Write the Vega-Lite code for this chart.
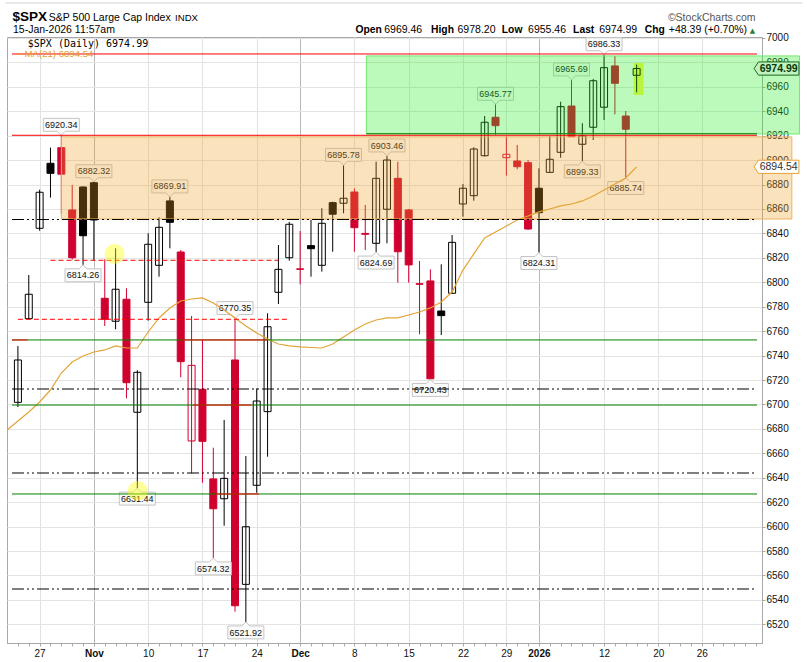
{
"$schema": "https://vega.github.io/schema/vega-lite/v6.json",
"width": 755, "height": 606,
"autosize": {"type": "none"},
"padding": {"left": 7, "top": 37, "right": 45, "bottom": 19},
"background": "white",
"config": {"view": {"stroke": "#a8a8a8"}, "axis": {"labelFont": "Liberation Sans", "labelFontSize": 10, "labelColor": "#111", "domainColor": "#a8a8a8", "tickColor": "#a8a8a8", "labelOverlap": false}},
"resolve": {"axis": {"y": "independent"}},
"datasets": {
"ohlc": [
{"d":"2025-10-23","i":-2,"o":6701.7,"h":6747.8,"l":6697.9,"c":6736.4,"dir":"up","hollow":true},
{"d":"2025-10-24","i":-1,"o":6770.2,"h":6806.0,"l":6769.7,"c":6790.2,"dir":"up","hollow":true},
{"d":"2025-10-27","i":0,"o":6844.2,"h":6875.8,"l":6842.2,"c":6873.7,"dir":"up","hollow":true},
{"d":"2025-10-28","i":1,"o":6897.4,"h":6910.2,"l":6869.3,"c":6889.2,"dir":"up","hollow":false},
{"d":"2025-10-29","i":2,"o":6910.2,"h":6920.34,"l":6856.0,"c":6888.5,"dir":"down","hollow":false},
{"d":"2025-10-30","i":3,"o":6859.2,"h":6879.7,"l":6818.5,"c":6820.1,"dir":"down","hollow":false},
{"d":"2025-10-31","i":4,"o":6878.0,"h":6878.5,"l":6814.26,"c":6838.1,"dir":"up","hollow":false},
{"d":"2025-11-03","i":5,"o":6881.5,"h":6882.32,"l":6818.2,"c":6851.0,"dir":"up","hollow":false},
{"d":"2025-11-04","i":6,"o":6786.9,"h":6818.8,"l":6764.2,"c":6769.7,"dir":"down","hollow":false},
{"d":"2025-11-05","i":7,"o":6768.1,"h":6827.8,"l":6761.5,"c":6794.3,"dir":"up","hollow":true},
{"d":"2025-11-06","i":8,"o":6786.1,"h":6795.1,"l":6705.0,"c":6717.8,"dir":"down","hollow":false},
{"d":"2025-11-07","i":9,"o":6693.6,"h":6728.0,"l":6631.44,"c":6726.3,"dir":"up","hollow":true},
{"d":"2025-11-10","i":10,"o":6783.6,"h":6840.1,"l":6768.6,"c":6831.1,"dir":"up","hollow":true},
{"d":"2025-11-11","i":11,"o":6813.9,"h":6853.2,"l":6804.6,"c":6845.0,"dir":"up","hollow":true},
{"d":"2025-11-12","i":12,"o":6866.6,"h":6869.91,"l":6827.8,"c":6849.1,"dir":"up","hollow":false},
{"d":"2025-11-13","i":13,"o":6824.8,"h":6826.4,"l":6722.2,"c":6735.0,"dir":"down","hollow":false},
{"d":"2025-11-14","i":14,"o":6670.1,"h":6772.4,"l":6643.6,"c":6732.0,"dir":"down","hollow":true},
{"d":"2025-11-17","i":15,"o":6712.4,"h":6752.8,"l":6635.9,"c":6669.8,"dir":"down","hollow":false},
{"d":"2025-11-18","i":16,"o":6639.0,"h":6664.6,"l":6574.32,"c":6614.6,"dir":"down","hollow":false},
{"d":"2025-11-19","i":17,"o":6622.8,"h":6687.3,"l":6600.7,"c":6639.5,"dir":"up","hollow":true},
{"d":"2025-11-20","i":18,"o":6736.4,"h":6770.35,"l":6530.3,"c":6535.2,"dir":"down","hollow":false},
{"d":"2025-11-21","i":19,"o":6552.7,"h":6657.8,"l":6521.92,"c":6599.9,"dir":"up","hollow":true},
{"d":"2025-11-24","i":20,"o":6633.8,"h":6713.2,"l":6627.7,"c":6702.8,"dir":"up","hollow":true},
{"d":"2025-11-25","i":21,"o":6694.1,"h":6774.6,"l":6657.2,"c":6763.6,"dir":"up","hollow":true},
{"d":"2025-11-26","i":22,"o":6791.8,"h":6830.5,"l":6782.2,"c":6810.6,"dir":"up","hollow":true},
{"d":"2025-11-28","i":23,"o":6820.1,"h":6849.4,"l":6817.7,"c":6847.5,"dir":"up","hollow":true},
{"d":"2025-12-01","i":24,"o":6811.0,"h":6842.0,"l":6798.4,"c":6810.6,"dir":"down","hollow":false},
{"d":"2025-12-02","i":25,"o":6830.0,"h":6851.0,"l":6804.6,"c":6827.5,"dir":"up","hollow":false},
{"d":"2025-12-03","i":26,"o":6813.9,"h":6860.6,"l":6808.7,"c":6848.3,"dir":"up","hollow":true},
{"d":"2025-12-04","i":27,"o":6865.2,"h":6866.0,"l":6825.0,"c":6855.7,"dir":"up","hollow":false},
{"d":"2025-12-05","i":28,"o":6864.7,"h":6895.78,"l":6856.5,"c":6868.8,"dir":"up","hollow":true},
{"d":"2025-12-08","i":29,"o":6873.9,"h":6876.9,"l":6825.0,"c":6844.7,"dir":"down","hollow":false},
{"d":"2025-12-09","i":30,"o":6840.0,"h":6863.3,"l":6826.4,"c":6839.3,"dir":"down","hollow":false},
{"d":"2025-12-10","i":31,"o":6831.9,"h":6898.7,"l":6824.69,"c":6885.1,"dir":"up","hollow":true},
{"d":"2025-12-11","i":32,"o":6859.8,"h":6903.46,"l":6831.9,"c":6900.1,"dir":"up","hollow":true},
{"d":"2025-12-12","i":33,"o":6885.1,"h":6898.7,"l":6799.7,"c":6825.0,"dir":"down","hollow":false},
{"d":"2025-12-15","i":34,"o":6859.2,"h":6860.0,"l":6799.7,"c":6814.2,"dir":"down","hollow":false},
{"d":"2025-12-16","i":35,"o":6798.8,"h":6817.4,"l":6757.4,"c":6798.4,"dir":"down","hollow":false},
{"d":"2025-12-17","i":36,"o":6801.1,"h":6810.6,"l":6720.43,"c":6721.0,"dir":"down","hollow":false},
{"d":"2025-12-18","i":37,"o":6776.5,"h":6814.7,"l":6756.8,"c":6772.7,"dir":"up","hollow":false},
{"d":"2025-12-19","i":38,"o":6791.0,"h":6838.7,"l":6790.5,"c":6832.7,"dir":"up","hollow":true},
{"d":"2025-12-22","i":39,"o":6864.1,"h":6880.5,"l":6853.7,"c":6877.0,"dir":"up","hollow":true},
{"d":"2025-12-23","i":40,"o":6870.9,"h":6910.5,"l":6866.8,"c":6909.1,"dir":"up","hollow":true},
{"d":"2025-12-24","i":41,"o":6903.6,"h":6936.1,"l":6903.0,"c":6931.0,"dir":"up","hollow":true},
{"d":"2025-12-26","i":42,"o":6935.1,"h":6945.77,"l":6920.6,"c":6928.2,"dir":"down","hollow":false},
{"d":"2025-12-29","i":43,"o":6902.0,"h":6919.8,"l":6887.3,"c":6904.8,"dir":"down","hollow":true},
{"d":"2025-12-30","i":44,"o":6899.3,"h":6912.4,"l":6892.5,"c":6894.6,"dir":"down","hollow":false},
{"d":"2025-12-31","i":45,"o":6897.9,"h":6900.1,"l":6843.0,"c":6843.6,"dir":"down","hollow":false},
{"d":"2026-01-02","i":46,"o":6877.0,"h":6893.3,"l":6824.31,"c":6857.0,"dir":"up","hollow":false},
{"d":"2026-01-05","i":47,"o":6890.0,"h":6919.8,"l":6890.0,"c":6900.7,"dir":"up","hollow":true},
{"d":"2026-01-06","i":48,"o":6906.4,"h":6947.8,"l":6902.0,"c":6943.8,"dir":"up","hollow":true},
{"d":"2026-01-07","i":49,"o":6944.3,"h":6965.69,"l":6919.0,"c":6919.2,"dir":"down","hollow":false},
{"d":"2026-01-08","i":50,"o":6913.0,"h":6930.2,"l":6899.33,"c":6919.8,"dir":"up","hollow":true},
{"d":"2026-01-09","i":51,"o":6926.9,"h":6966.4,"l":6916.5,"c":6965.0,"dir":"up","hollow":true},
{"d":"2026-01-12","i":52,"o":6943.3,"h":6986.33,"l":6932.9,"c":6975.7,"dir":"up","hollow":true},
{"d":"2026-01-13","i":53,"o":6977.1,"h":6985.3,"l":6937.5,"c":6962.9,"dir":"down","hollow":false},
{"d":"2026-01-14","i":54,"o":6936.1,"h":6940.2,"l":6885.74,"c":6925.3,"dir":"down","hollow":false},
{"d":"2026-01-15","i":55,"o":6969.46,"h":6978.2,"l":6955.46,"c":6974.99,"dir":"up","hollow":true}
],
"ma": [
{"i":-3,"v":6679},{"i":-2,"v":6686.5},{"i":-1,"v":6693.8},{"i":0,"v":6702},{"i":1,"v":6711.8},{"i":2,"v":6725.7},{"i":3,"v":6734.7},{"i":4,"v":6739.7},{"i":5,"v":6742.9},{"i":6,"v":6744.6},{"i":7,"v":6747.9},{"i":8,"v":6746.2},{"i":9,"v":6746.2},{"i":10,"v":6759.3},{"i":11,"v":6770.8},{"i":12,"v":6779},{"i":13,"v":6784.7},{"i":14,"v":6786.3},{"i":15,"v":6787.2},{"i":16,"v":6783},{"i":17,"v":6777.3},{"i":18,"v":6770.8},{"i":19,"v":6764.2},{"i":20,"v":6758.5},{"i":21,"v":6753.6},{"i":22,"v":6749.5},{"i":23,"v":6747.9},{"i":24,"v":6747.1},{"i":25,"v":6746.6},{"i":26,"v":6746.2},{"i":27,"v":6749.5},{"i":28,"v":6755.2},{"i":29,"v":6760.9},{"i":30,"v":6765.9},{"i":31,"v":6769.1},{"i":32,"v":6770.8},{"i":33,"v":6770.8},{"i":34,"v":6773.2},{"i":35,"v":6775.7},{"i":36,"v":6779},{"i":37,"v":6783.9},{"i":38,"v":6792},{"i":39,"v":6810},{"i":40,"v":6823.2},{"i":41,"v":6836.3},{"i":42,"v":6841.2},{"i":43,"v":6846.1},{"i":44,"v":6851},{"i":45,"v":6854.3},{"i":46,"v":6857.6},{"i":47,"v":6860},{"i":48,"v":6862.5},{"i":49,"v":6864.1},{"i":50,"v":6866.6},{"i":51,"v":6870.7},{"i":52,"v":6875.6},{"i":53,"v":6880.5},{"i":54,"v":6885.4},{"i":55,"v":6894.54}
],
"hiLab": [{"i":2,"v":6920.34},{"i":5,"v":6882.32},{"i":12,"v":6869.91},{"i":18,"v":6770.35},{"i":28,"v":6895.78},{"i":32,"v":6903.46},{"i":42,"v":6945.77},{"i":49,"v":6965.69},{"i":52,"v":6986.33}],
"loLab": [{"i":4,"v":6814.26},{"i":9,"v":6631.44},{"i":16,"v":6574.32},{"i":19,"v":6521.92},{"i":31,"v":6824.69},{"i":36,"v":6720.43},{"i":46,"v":6824.31},{"i":50,"v":6899.33},{"i":54,"v":6885.74}],
"orangeZone": [{"i":2,"i2":69.3,"v":6851.8,"v2":6919.0}],
"greenZone": [{"i":30.1,"i2":70.0,"v":6921.4,"v2":6985.3}],
"highlight": [{"i":54.73,"i2":55.64,"v":6953.3,"v2":6979.5}],
"greenLines": [{"i":-2.545,"i2":66.09,"v":6752.8},{"i":-2.545,"i2":66.09,"v":6699.5},{"i":-2.545,"i2":66.09,"v":6626.7},{"i":30.1,"i2":66.09,"v":6921.6}],
"redLines": [{"i":-2.545,"i2":66.09,"v":6986.9},{"i":-2.545,"i2":66.09,"v":6920.34},{"i":-2.545,"i2":-1.1,"v":6752.8},{"i":13,"i2":21,"v":6752.8},{"i":14.1,"i2":19.5,"v":6699.5},{"i":16.2,"i2":20.2,"v":6626.7}],
"dashDot": [{"i":-2.545,"i2":66.09,"v":6851.4},{"i":-2.545,"i2":66.09,"v":6712.6},{"i":-2.545,"i2":66.09,"v":6643.9},{"i":-2.545,"i2":66.09,"v":6548.9}],
"redDash": [{"i":1,"i2":22,"v":6818.0},{"i":-2,"i2":23,"v":6769.7}],
"circles": [{"i":6.9,"v":6823.2},{"i":9.03,"v":6629.1}],
"frame": [{"i":-3.19,"i2":70.27,"v":7028.6}],
"lastTag": [{"i":65.82,"v":6974.99}],
"maTag": [{"i":65.82,"v":6894.54}],
"hdrTitle": [{"t":"$SPX","i":-2.5,"v":7014.1}],
"hdrNorm": [{"t":"S&P 500 Large Cap Index","i":0.85,"v":7014.1},{"t":"15-Jan-2026 11:57am","i":-2.4545,"v":7003.85},{"t":"6969.46","i":31.75,"v":7003.85},{"t":"6978.20","i":38.5,"v":7003.85},{"t":"6955.46","i":45.0,"v":7003.85},{"t":"6974.99","i":51.55,"v":7003.85},{"t":"+48.39 (+0.70%)","i":57.97,"v":7003.85}],
"hdrSmall": [{"t":"INDX","i":12.48,"v":7014.1}],
"hdrBold": [{"t":"Open","i":29.09,"v":7003.85},{"t":"High","i":36.06,"v":7003.85},{"t":"Low","i":42.58,"v":7003.85},{"t":"Last","i":49.15,"v":7003.85},{"t":"Chg","i":55.76,"v":7003.85}],
"copyright": [{"t":"©StockCharts.com","i":57.88,"v":7014.1}],
"arrow": [{"t":"▲","i":65.67,"v":7004.3}],
"legPrice": [{"t":"$SPX (Daily) 6974.99","i":-1.09,"v":6992.9}],
"legMA": [{"t":"—MA(21) 6894.54","i":-2.27,"v":6984.7}]
},
"encoding": {
"x": {"field": "i", "type": "quantitative",
 "scale": {"domain": [-2.545, 66.09], "nice": false, "zero": false},
 "axis": {"title": null,
  "values": [-2,-1,0,1,2,3,4,5,6,7,8,9,10,11,12,13,14,15,16,17,18,19,20,21,22,23,24,25,26,27,28,29,30,31,32,33,34,35,36,37,38,39,40,41,42,43,44,45,46,47,48,49,50,51,52,53,54,55,56,57,58,59,60,61,62,63,64,65,66],
  "labelExpr": "indexof([0,5,10,15,20,24,29,34,39,43,46,52,57,61], datum.value) >= 0 ? ['27','Nov','10','17','24','Dec','8','15','22','29','2026','12','20','26'][indexof([0,5,10,15,20,24,29,34,39,43,46,52,57,61], datum.value)] : ''",
  "labelOverlap": false, "labelFlush": false, "labelBound": false, "labelPadding": 2, "labelFontSize": 10,
  "labelFontWeight": {"condition": {"test": "indexof([5,24,46], datum.value) >= 0", "value": "bold"}, "value": "normal"},
  "grid": true,
  "gridOpacity": {"condition": {"test": "indexof([0,5,10,15,20,24,29,34,39,43,46,52,57,61], datum.value) >= 0", "value": 1}, "value": 0},
  "gridColor": {"condition": {"test": "indexof([5,24,46], datum.value) >= 0", "value": "#b8b8b8"}, "value": "#e2e2e2"},
  "tickSize": 3}}
},
"layer": [
{"data": {"name": "frame"}, "mark": {"type": "rule", "color": "#d4d4d4", "strokeWidth": 1},
 "encoding": {"x2": {"field": "i2"}, "y": {"field": "v", "type": "quantitative", "axis": null, "scale": {"domain": [6504.7, 7000.8], "nice": false, "zero": false}}}},
{"data": {"name": "highlight"}, "mark": {"type": "rect", "color": "#fff548"},
 "encoding": {"x2": {"field": "i2"}, "y": {"field": "v", "type": "quantitative", "axis": null, "scale": {"domain": [6504.7, 7000.8], "nice": false, "zero": false}}, "y2": {"field": "v2"}}},
{"data": {"name": "ohlc"}, "mark": {"type": "rule", "strokeWidth": 1},
 "encoding": {
  "y": {"field": "l", "type": "quantitative", "scale": {"domain": [6504.7, 7000.8], "nice": false, "zero": false},
   "axis": {"orient": "right", "title": null, "format": "d", "labelOverlap": false, "labelBound": false, "labelFlush": false, "values": [6520,6540,6560,6580,6600,6620,6640,6660,6680,6700,6720,6740,6760,6780,6800,6820,6840,6860,6880,6900,6920,6940,6960,6980,7000], "grid": true, "gridColor": "#e4e4e4", "tickSize": 3, "labelPadding": 1, "labelAlign": "left", "labelBaseline": "middle", "labelFontSize": 10}},
  "y2": {"field": "h"},
  "color": {"field": "dir", "type": "nominal", "scale": {"domain": ["up","down"], "range": ["#000000","#d0002f"]}, "legend": null}}},
{"data": {"name": "ohlc"}, "mark": {"type": "bar", "size": 7, "strokeWidth": 1},
 "encoding": {
  "y": {"field": "o", "type": "quantitative", "axis": null, "scale": {"domain": [6504.7, 7000.8], "nice": false, "zero": false}},
  "y2": {"field": "c"},
  "fill": {"condition": {"test": "datum.hollow", "value": "transparent"}, "field": "dir", "type": "nominal", "scale": {"domain": ["up","down"], "range": ["#000000","#d0002f"]}, "legend": null},
  "stroke": {"field": "dir", "type": "nominal", "scale": {"domain": ["up","down"], "range": ["#000000","#d0002f"]}, "legend": null}}},
{"data": {"name": "hiLab"}, "mark": {"type": "point", "shape": "M0,0L-0.22,-0.22L-1,-0.22L-1,-0.94L1,-0.94L1,-0.22L0.22,-0.22Z", "size": 1296, "filled": true, "fill": "#fbfbfb", "fillOpacity": 1, "stroke": "#c4c4c4", "strokeWidth": 1, "opacity": 1},
 "encoding": {"y": {"field": "v", "type": "quantitative", "axis": null, "scale": {"domain": [6504.7, 7000.8], "nice": false, "zero": false}}}},
{"data": {"name": "loLab"}, "mark": {"type": "point", "shape": "M0,0L-0.22,0.22L-1,0.22L-1,0.94L1,0.94L1,0.22L0.22,0.22Z", "size": 1296, "filled": true, "fill": "#fbfbfb", "fillOpacity": 1, "stroke": "#c4c4c4", "strokeWidth": 1, "opacity": 1},
 "encoding": {"y": {"field": "v", "type": "quantitative", "axis": null, "scale": {"domain": [6504.7, 7000.8], "nice": false, "zero": false}}}},
{"data": {"name": "hiLab"}, "mark": {"type": "text", "font": "Liberation Sans", "fontSize": 9, "color": "#111", "baseline": "middle", "align": "center", "yOffset": -10.4},
 "encoding": {"y": {"field": "v", "type": "quantitative", "axis": null, "scale": {"domain": [6504.7, 7000.8], "nice": false, "zero": false}}, "text": {"field": "v", "type": "quantitative", "format": ".2f"}}},
{"data": {"name": "loLab"}, "mark": {"type": "text", "font": "Liberation Sans", "fontSize": 9, "color": "#111", "baseline": "middle", "align": "center", "yOffset": 10.6},
 "encoding": {"y": {"field": "v", "type": "quantitative", "axis": null, "scale": {"domain": [6504.7, 7000.8], "nice": false, "zero": false}}, "text": {"field": "v", "type": "quantitative", "format": ".2f"}}},
{"data": {"name": "orangeZone"}, "mark": {"type": "rect", "fill": "#f0a020", "fillOpacity": 0.3, "stroke": "#eeb060", "strokeWidth": 1},
 "encoding": {"x2": {"field": "i2"}, "y": {"field": "v", "type": "quantitative", "axis": null, "scale": {"domain": [6504.7, 7000.8], "nice": false, "zero": false}}, "y2": {"field": "v2"}}},
{"data": {"name": "greenZone"}, "mark": {"type": "rect", "fill": "#20f020", "fillOpacity": 0.3, "stroke": "#70e870", "strokeWidth": 1},
 "encoding": {"x2": {"field": "i2"}, "y": {"field": "v", "type": "quantitative", "axis": null, "scale": {"domain": [6504.7, 7000.8], "nice": false, "zero": false}}, "y2": {"field": "v2"}}},
{"data": {"name": "ma"}, "mark": {"type": "line", "color": "#e3a436", "strokeWidth": 1.2, "clip": true},
 "encoding": {"y": {"field": "v", "type": "quantitative", "axis": null, "scale": {"domain": [6504.7, 7000.8], "nice": false, "zero": false}}}},
{"data": {"name": "greenLines"}, "mark": {"type": "rule", "color": "#008000", "strokeWidth": 1},
 "encoding": {"x2": {"field": "i2"}, "y": {"field": "v", "type": "quantitative", "axis": null, "scale": {"domain": [6504.7, 7000.8], "nice": false, "zero": false}}}},
{"data": {"name": "redLines"}, "mark": {"type": "rule", "color": "#ff0000", "strokeWidth": 1},
 "encoding": {"x2": {"field": "i2"}, "y": {"field": "v", "type": "quantitative", "axis": null, "scale": {"domain": [6504.7, 7000.8], "nice": false, "zero": false}}}},
{"data": {"name": "dashDot"}, "mark": {"type": "rule", "color": "#000000", "strokeWidth": 1.1, "strokeDash": [12,3,2,3,2,3]},
 "encoding": {"x2": {"field": "i2"}, "y": {"field": "v", "type": "quantitative", "axis": null, "scale": {"domain": [6504.7, 7000.8], "nice": false, "zero": false}}}},
{"data": {"name": "redDash"}, "mark": {"type": "rule", "color": "#ff0000", "strokeWidth": 1, "strokeDash": [5,3]},
 "encoding": {"x2": {"field": "i2"}, "y": {"field": "v", "type": "quantitative", "axis": null, "scale": {"domain": [6504.7, 7000.8], "nice": false, "zero": false}}}},
{"data": {"name": "circles"}, "mark": {"type": "point", "shape": "circle", "filled": true, "color": "#ffff00", "opacity": 0.4, "size": 400},
 "encoding": {"y": {"field": "v", "type": "quantitative", "axis": null, "scale": {"domain": [6504.7, 7000.8], "nice": false, "zero": false}}}},
{"data": {"name": "hdrTitle"}, "mark": {"type": "text", "font": "Liberation Sans", "fontSize": 13.5, "fontWeight": "bold", "color": "#000", "align": "left", "baseline": "alphabetic"},
 "encoding": {"y": {"field": "v", "type": "quantitative", "axis": null, "scale": {"domain": [6504.7, 7000.8], "nice": false, "zero": false}}, "text": {"field": "t"}}},
{"data": {"name": "hdrNorm"}, "mark": {"type": "text", "font": "Liberation Sans", "fontSize": 10.5, "color": "#000", "align": "left", "baseline": "alphabetic"},
 "encoding": {"y": {"field": "v", "type": "quantitative", "axis": null, "scale": {"domain": [6504.7, 7000.8], "nice": false, "zero": false}}, "text": {"field": "t"}}},
{"data": {"name": "hdrSmall"}, "mark": {"type": "text", "font": "Liberation Sans", "fontSize": 9.6, "color": "#000", "align": "left", "baseline": "alphabetic"},
 "encoding": {"y": {"field": "v", "type": "quantitative", "axis": null, "scale": {"domain": [6504.7, 7000.8], "nice": false, "zero": false}}, "text": {"field": "t"}}},
{"data": {"name": "hdrBold"}, "mark": {"type": "text", "font": "Liberation Sans", "fontSize": 10.3, "fontWeight": "bold", "color": "#000", "align": "left", "baseline": "alphabetic"},
 "encoding": {"y": {"field": "v", "type": "quantitative", "axis": null, "scale": {"domain": [6504.7, 7000.8], "nice": false, "zero": false}}, "text": {"field": "t"}}},
{"data": {"name": "copyright"}, "mark": {"type": "text", "font": "Liberation Sans", "fontSize": 10.5, "color": "#555", "align": "left", "baseline": "alphabetic"},
 "encoding": {"y": {"field": "v", "type": "quantitative", "axis": null, "scale": {"domain": [6504.7, 7000.8], "nice": false, "zero": false}}, "text": {"field": "t"}}},
{"data": {"name": "arrow"}, "mark": {"type": "text", "font": "DejaVu Sans", "fontSize": 7, "color": "#2e7d32", "align": "center", "baseline": "alphabetic"},
 "encoding": {"y": {"field": "v", "type": "quantitative", "axis": null, "scale": {"domain": [6504.7, 7000.8], "nice": false, "zero": false}}, "text": {"field": "t"}}},
{"data": {"name": "legPrice"}, "mark": {"type": "text", "font": "DejaVu Sans Mono", "fontSize": 10, "color": "#000", "align": "left", "baseline": "alphabetic"},
 "encoding": {"y": {"field": "v", "type": "quantitative", "axis": null, "scale": {"domain": [6504.7, 7000.8], "nice": false, "zero": false}}, "text": {"field": "t"}}},
{"data": {"name": "legMA"}, "mark": {"type": "text", "font": "Liberation Sans", "fontSize": 9.6, "color": "#e0a030", "align": "left", "baseline": "alphabetic"},
 "encoding": {"y": {"field": "v", "type": "quantitative", "axis": null, "scale": {"domain": [6504.7, 7000.8], "nice": false, "zero": false}}, "text": {"field": "t"}}},
{"data": {"name": "lastTag"}, "mark": {"type": "point", "shape": "M0,0L0.2,-0.3L2.04,-0.3L2.04,0.3L0.2,0.3Z", "size": 1936, "filled": true, "fill": "#bff2bf", "fillOpacity": 1, "stroke": "#1a6a1a", "strokeWidth": 1, "opacity": 1},
 "encoding": {"y": {"field": "v", "type": "quantitative", "axis": null, "scale": {"domain": [6504.7, 7000.8], "nice": false, "zero": false}}}},
{"data": {"name": "lastTag"}, "mark": {"type": "text", "font": "Liberation Sans", "fontSize": 10.5, "fontWeight": "bold", "color": "#0a3a0a", "align": "center", "baseline": "middle", "xOffset": 24.6},
 "encoding": {"y": {"field": "v", "type": "quantitative", "axis": null, "scale": {"domain": [6504.7, 7000.8], "nice": false, "zero": false}}, "text": {"field": "v", "type": "quantitative", "format": ".2f"}}},
{"data": {"name": "maTag"}, "mark": {"type": "point", "shape": "M0,0L0.2,-0.3L2.04,-0.3L2.04,0.3L0.2,0.3Z", "size": 1936, "filled": true, "fill": "#ffffff", "fillOpacity": 1, "stroke": "#e8a030", "strokeWidth": 1, "opacity": 1},
 "encoding": {"y": {"field": "v", "type": "quantitative", "axis": null, "scale": {"domain": [6504.7, 7000.8], "nice": false, "zero": false}}}},
{"data": {"name": "maTag"}, "mark": {"type": "text", "font": "Liberation Sans", "fontSize": 10.5, "color": "#333", "align": "center", "baseline": "middle", "xOffset": 24.6},
 "encoding": {"y": {"field": "v", "type": "quantitative", "axis": null, "scale": {"domain": [6504.7, 7000.8], "nice": false, "zero": false}}, "text": {"field": "v", "type": "quantitative", "format": ".2f"}}}
]
}
